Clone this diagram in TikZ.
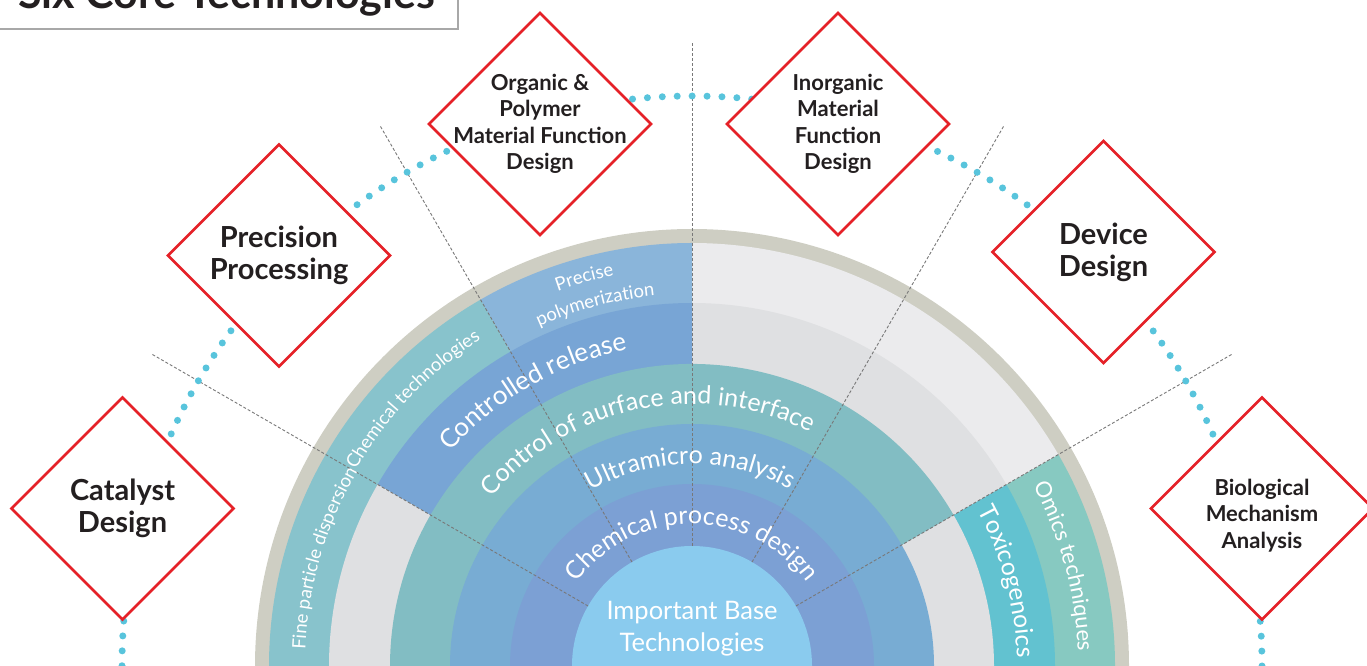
\documentclass[tikz,border=0pt]{standalone}
\usepackage{fontspec}
\setmainfont{Lato}
\usetikzlibrary{shapes.geometric,decorations.text}
\definecolor{rimgray}{RGB}{206,206,195}
\definecolor{palegray}{RGB}{235,235,237}
\definecolor{midgray}{RGB}{223,224,226}
\definecolor{precblue}{RGB}{138,181,218}
\definecolor{chemteal}{RGB}{136,195,204}
\definecolor{ctrlblue}{RGB}{120,165,213}
\definecolor{surfteal}{RGB}{130,189,195}
\definecolor{ultrablue}{RGB}{120,172,211}
\definecolor{procblue}{RGB}{124,160,212}
\definecolor{coreblue}{RGB}{138,203,238}
\definecolor{toxcyan}{RGB}{98,194,208}
\definecolor{omicsteal}{RGB}{135,201,193}
\definecolor{redline}{RGB}{229,33,40}
\definecolor{darktext}{RGB}{35,31,32}
\definecolor{dotcyan}{RGB}{88,196,220}
\definecolor{dashgray}{RGB}{120,120,120}
\definecolor{boxgray}{RGB}{168,168,168}
\newcommand\pieslice[4]{\fill[#1] (692,0) -- ++(#2:#4) arc[start angle=#2, end angle=#3, radius=#4pt] -- cycle;}
\newcommand\arctext[4]{\path[decorate, decoration={text along path, text align=center, text color=white, text={|\fontsize{#3}{#3}\selectfont|#4}}] (692,0) ++(#1+75:#2) arc[start angle=#1+75, end angle=#1-75, radius=#2pt];}
\begin{document}
\begin{tikzpicture}[x=1pt,y=1pt,
  dia/.style={diamond, draw=redline, line width=2.6pt, fill=white, minimum width=223pt, minimum height=223pt, inner sep=0pt},
  dbig/.style={align=center, text=darktext, font=\bfseries\fontsize{29}{32}\selectfont},
  dsmall/.style={align=center, text=darktext, font=\bfseries\fontsize{22}{26.5}\selectfont},
  dashl/.style={draw=dashgray, line width=0.9pt, dash pattern=on 3pt off 2pt},
  dotline/.style={draw=dotcyan, line width=7pt, line cap=round, dash pattern=on 0pt off 14.9226pt}]
\useasboundingbox (0,0) rectangle (1367,666);
\clip (0,0) rectangle (1367,666);
% rings
\pieslice{rimgray}{0}{180}{437}
\pieslice{omicsteal}{0}{30}{423}
\pieslice{palegray}{30}{90}{423}
\pieslice{precblue}{90}{120}{423}
\pieslice{chemteal}{120}{180}{423}
\pieslice{toxcyan}{0}{30}{363}
\pieslice{midgray}{30}{90}{363}
\pieslice{ctrlblue}{90}{150}{363}
\pieslice{midgray}{150}{180}{363}
\pieslice{midgray}{0}{30}{302}
\pieslice{surfteal}{30}{180}{302}
\pieslice{ultrablue}{0}{180}{242}
\pieslice{procblue}{0}{180}{182}
\pieslice{coreblue}{0}{180}{120}
% dashed radial lines
\foreach \a in {30,60,90,120,150} \draw[dashl] (692,0) ++(\a:120) -- ++(\a:504);
% ring labels
\arctext{105.5}{398}{18.5}{Precise}
\arctext{105}{372}{18.5}{polymerization}
\arctext{136.3}{389}{18.5}{Chemical technologies}
\arctext{163.7}{387}{18.5}{Fine particle dispersion}
\arctext{120}{323}{26}{Controlled release}
\arctext{101.5}{262}{25}{Control of aurface and interface}
\arctext{90.5}{202}{25}{Ultramicro analysis}
\arctext{90}{142}{25}{Chemical process design}
\arctext{15}{325}{24.5}{Toxicogenoics}
\arctext{15}{386}{22}{Omics techniques}
\node[align=center, text=white, font=\fontsize{25.5}{32}\selectfont] (core) at (692,37) {Important Base\\Technologies};
% dotted circle
\draw[dotline] (1262,0) arc[start angle=0, end angle=180, radius=570pt];
% diamonds
\node[dia] (cat) at (122.5,157.5) {};
\node[dbig] at (cat) {Catalyst\\Design};
\node[dia] (prec) at (279,410.5) {};
\node[dbig] at (prec) {Precision\\Processing};
\node[dia] (org) at (540,542) {};
\node[dsmall] at (org) {Organic \&\\Polymer\\Material Function\\Design};
\node[dia] (inorg) at (838,542) {};
\node[dsmall] at (inorg) {Inorganic\\Material\\Function\\Design};
\node[dia] (dev) at (1103.5,414) {};
\node[dbig] at (dev) {Device\\Design};
\node[dia] (bio) at (1262,157.5) {};
\node[dsmall] at ([yshift=-7pt]bio.center) {Biological\\Mechanism\\Analysis};
% title box
\draw[draw=boxgray, line width=2.7pt, fill=white] (-10,637) rectangle (458,680);
\node[anchor=base west, text=darktext, inner sep=0pt, font=\bfseries\fontsize{43}{43}\selectfont] (title) at (18,657) {Six Core Technologies};
\end{tikzpicture}
\end{document}
